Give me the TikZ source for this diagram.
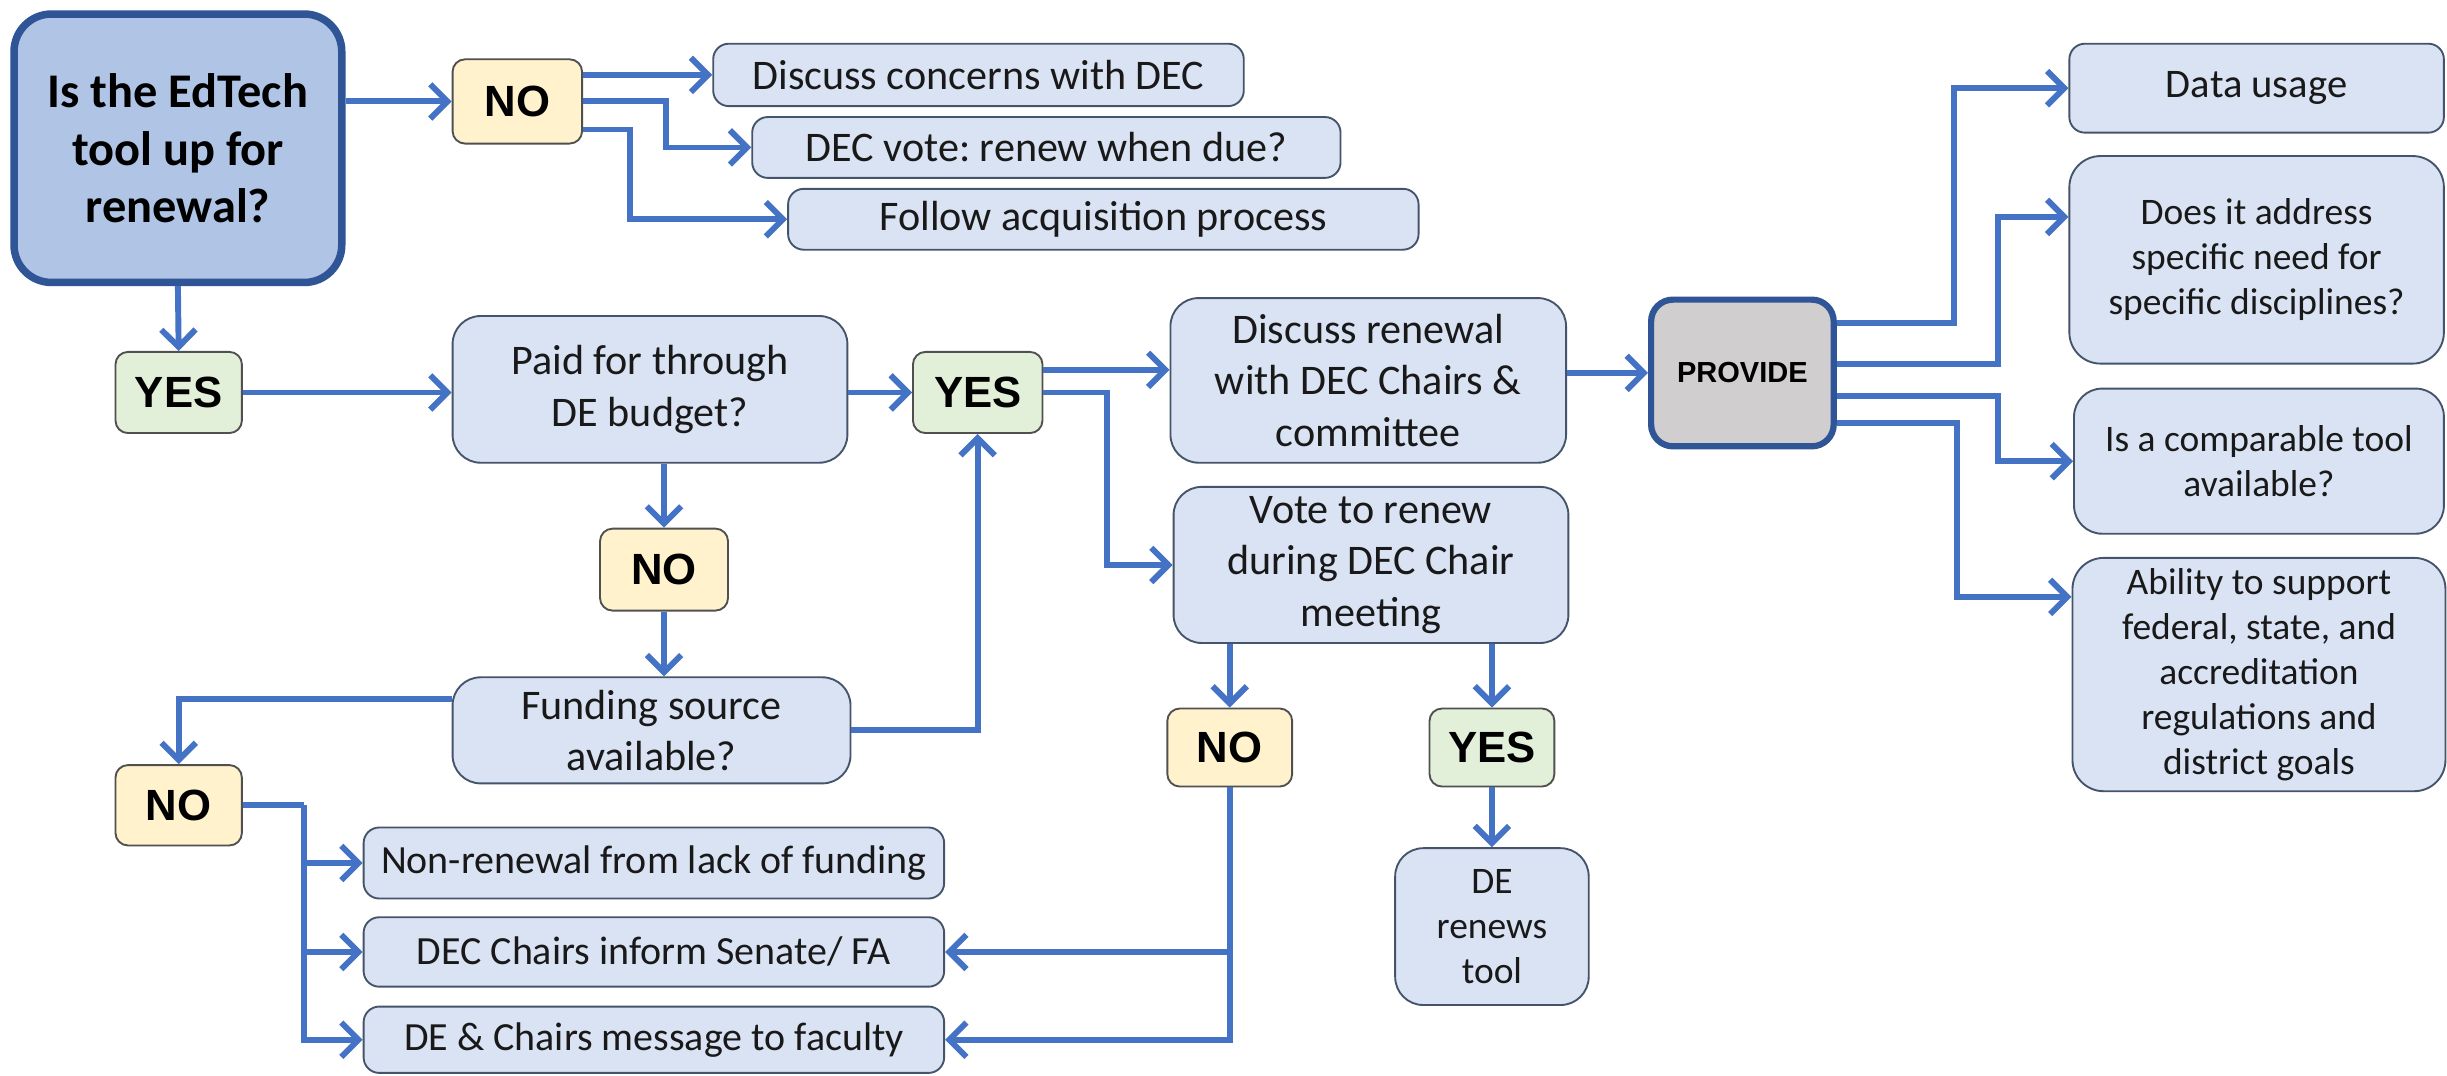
\documentclass[tikz,border=0pt]{standalone}
\usepackage{fontspec}
\setmainfont{Carlito}
\newfontfamily\ynfont{Liberation Sans}
\usetikzlibrary{arrows.meta,calc}
\definecolor{conn}{HTML}{4472C4}
\definecolor{boxfill}{HTML}{DAE3F3}
\definecolor{boxline}{HTML}{44546A}
\definecolor{nofill}{HTML}{FFF2CC}
\definecolor{yesfill}{HTML}{E2F0D9}
\definecolor{mainfill}{HTML}{B0C4E6}
\definecolor{mainline}{HTML}{2F5597}
\definecolor{provfill}{HTML}{D0CECE}
\definecolor{tagline}{HTML}{505050}
\frenchspacing
\begin{document}
\begin{tikzpicture}[x=0.5pt,y=-0.5pt,
  every node/.style={inner sep=0pt, align=center, text=black!90},
  box/.style={draw=boxline, line width=0.6pt, fill=boxfill, rounded corners=5pt,
    font=\fontsize{13.5}{16.5}\selectfont},
  smallbox/.style={box, font=\fontsize{12}{14.4}\selectfont},
  bigcorner/.style={rounded corners=9pt},
  notag/.style={draw=tagline, line width=0.6pt, fill=nofill, rounded corners=4pt,
    font=\ynfont\bfseries\fontsize{14}{16}\selectfont, text=black},
  yestag/.style={notag, fill=yesfill},
  mainbox/.style={draw=mainline, line width=2.4pt, fill=mainfill, rounded corners=12pt,
    font=\bfseries\fontsize{15.5}{18.5}\selectfont, text=black},
  provbox/.style={draw=mainline, line width=2pt, fill=provfill, rounded corners=7pt,
    font=\ynfont\bfseries\fontsize{9.3}{11}\selectfont, text=black},
  conline/.style={draw=conn, line width=1.9pt, line join=miter},
  arr/.style={conline, -{Straight Barb[length=5.5pt,width=11pt]}}
]
\useasboundingbox (0,0) rectangle (1568,689);
\fill[white] (0,0) rectangle (1568,689);

% nodes
\node[mainbox, minimum width=105pt, minimum height=86pt] (main) at (114,95)
  {Is the EdTech\\tool up for\\renewal?};
\node[notag, minimum width=41.5pt, minimum height=27pt] (no1) at (331.5,65) {NO};
\node[box, minimum width=170pt, minimum height=20pt] (dc) at (627,48) {Discuss concerns with DEC};
\node[box, minimum width=188.5pt, minimum height=19.5pt] (dv) at (670.5,94.5) {DEC vote: renew when due?};
\node[box, minimum width=202pt, minimum height=19.5pt] (fa) at (707,140.5) {Follow acquisition process};

\node[yestag, minimum width=40.5pt, minimum height=26pt] (yes1) at (114.5,251.5) {YES};
\node[box, bigcorner, minimum width=126.5pt, minimum height=47pt] (paid) at (416.5,249.5)
  {Paid for through\\DE budget?};
\node[yestag, minimum width=41.5pt, minimum height=26pt] (yes2) at (626.5,251.5) {YES};
\node[notag, minimum width=41pt, minimum height=26.25pt] (no2) at (425.5,365) {NO};
\node[box, bigcorner, minimum width=127.5pt, minimum height=34pt] (fund) at (417.5,468)
  {Funding source\\available?};
\node[notag, minimum width=40.5pt, minimum height=25.75pt] (no3) at (114.5,516) {NO};

\node[box, font=\fontsize{12.8}{15}\selectfont, minimum width=186pt, minimum height=22.75pt] (nr) at (419,553)
  {Non-renewal from lack of funding};
\node[box, font=\fontsize{12.8}{15}\selectfont, minimum width=186pt, minimum height=22.25pt] (ci) at (419,610)
  {DEC Chairs inform Senate/ FA};
\node[box, font=\fontsize{12.8}{15}\selectfont, minimum width=186pt, minimum height=21.25pt] (cm) at (419,666.25)
  {DE \& Chairs message to faculty};

\node[box, bigcorner, minimum width=126.75pt, minimum height=52.75pt] (dr) at (876.75,243.75)
  {Discuss renewal\\with DEC Chairs \&\\committee};
\node[box, bigcorner, minimum width=126.5pt, minimum height=50pt] (vote) at (878.5,362)
  {Vote to renew\\during DEC Chair\\meeting};
\node[notag, minimum width=40pt, minimum height=25pt] (no4) at (788,479) {NO};
\node[yestag, minimum width=40pt, minimum height=25pt] (yes4) at (956,479) {YES};
\node[smallbox, bigcorner, minimum width=62pt, minimum height=50.25pt] (dt) at (956,593.75)
  {DE\\renews\\tool};

\node[provbox, minimum width=58.5pt, minimum height=47pt] (prov) at (1116.5,239) {PROVIDE};
\node[box, font=\fontsize{13}{15}\selectfont, minimum width=120pt, minimum height=28.5pt] (du) at (1446,56.5) {Data usage};
\node[smallbox, rounded corners=10pt, minimum width=120pt, minimum height=66.5pt] (da) at (1446,166.5)
  {Does it address\\specific need for\\specific disciplines?};
\node[smallbox, bigcorner, minimum width=118.5pt, minimum height=46.5pt] (ct) at (1447.5,295.5)
  {Is a comparable tool\\available?};
\node[smallbox, rounded corners=10pt, minimum width=119.5pt, minimum height=74.75pt] (ab) at (1447.5,432.25)
  {Ability to support\\federal, state, and\\accreditation\\regulations and\\district goals};

% connectors: top branch
\draw[arr] (main.east |- no1.west) -- (no1.west);
\draw[arr] (no1.east |- dc.west) -- (dc.west);
\draw[arr] (no1.east) -- ++(53,0) |- (dv.west);
\draw[arr] ($(no1.east)+(0,18)$) coordinate (n1c) -- ++(30,0) |- (fa.west);

% left column
\draw[arr] (main.south) -- (yes1.north);
\draw[arr] (yes1.east) -- (yes1.east -| paid.west);
\draw[arr] (paid.east |- yes2.west) -- (yes2.west);
\draw[arr] (no2.north |- paid.south) -- (no2.north);
\draw[arr] (no2.south) -- (no2.south |- fund.north);
\draw[arr] (fund.east) -| (yes2.south);
\draw[arr] ($(fund.west)+(0,-20)$) coordinate (fw) -| (no3.north);

\draw[conline] (no3.east) -- ++(39,0) coordinate (nb);
\draw[arr] (nb) |- (cm.west);
\draw[arr] (nb |- nr.west) -- (nr.west);
\draw[arr] (nb |- ci.west) -- (ci.west);

% middle
\draw[arr] ($(yes2.east)+(0,-14.5)$) coordinate (y2a) -- (y2a -| dr.west);
\draw[arr] (yes2.east) -- ++(41,0) |- (vote.west);
\draw[arr] (prov.west -| dr.east) -- (prov.west);
\draw[arr] (no4.north |- vote.south) -- (no4.north);
\draw[arr] (yes4.north |- vote.south) -- (yes4.north);
\draw[arr] (yes4.south) -- (dt.north);
\draw[arr] (no4.south) |- (cm.east);
\draw[arr] (no4.south |- ci.east) -- (ci.east);

% provide branches
\draw[arr] ($(prov.east)+(0,-32)$) coordinate (pa) -- ++(75,0) |- (du.west);
\draw[arr] ($(prov.east)+(0,-6)$) coordinate (pb) -- ++(103,0) |- ($(da.west)+(0,-27.5)$);
\draw[arr] ($(prov.east)+(0,15)$) coordinate (pc) -- ++(103,0) |- (ct.west);
\draw[arr] ($(prov.east)+(0,32)$) coordinate (pd) -- ++(77,0) |- ($(ab.west)+(0,-49.75)$);
\end{tikzpicture}
\end{document}
